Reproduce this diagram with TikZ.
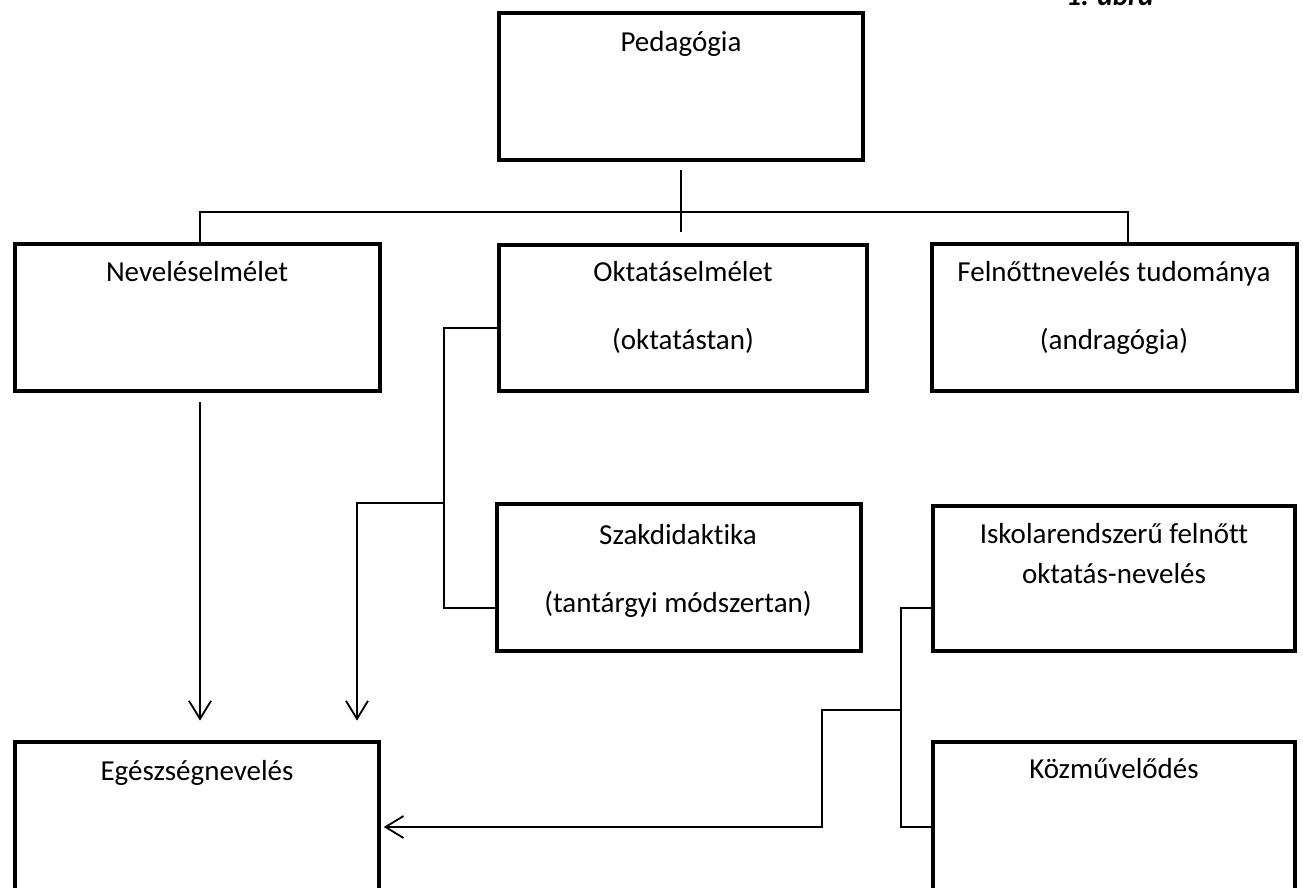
\documentclass[tikz,border=0pt]{standalone}
\usepackage{fontspec}
\setmainfont{Carlito}[Ligatures=NoCommon]
\usetikzlibrary{fit,arrows.meta}
\tikzset{
  bx/.style={draw=black, line width=2.4pt, inner sep=0pt},
  con/.style={draw=black, line width=0.9pt},
  arr/.style={con, -{Straight Barb[length=9pt,width=11pt,line width=0.9pt]}},
  lbl/.style={anchor=base, inner sep=0pt, font=\fontsize{14.5pt}{16pt}\selectfont}
}
\begin{document}
\begin{tikzpicture}[x=0.5pt,y=-0.5pt]
\fill[white] (0,0) rectangle (1303,888);
\useasboundingbox (0,0) rectangle (1303,888);
% boxes
\node[bx, fit={(499,13) (863,160)}] (ped) {};
\node[bx, fit={(15,244) (380,391)}] (nev) {};
\node[bx, fit={(499,245) (867,391)}] (okt) {};
\node[bx, fit={(932,244) (1297,391)}] (fel) {};
\node[bx, fit={(497,504) (861,651)}] (szak) {};
\node[bx, fit={(933,506) (1295,651)}] (isk) {};
\node[bx, fit={(15,742) (379,893)}] (ege) {};
\node[bx, fit={(933,742) (1295,893)}] (koz) {};
% labels
\node[lbl, font=\fontsize{14.5pt}{16pt}\selectfont\bfseries\itshape] (abra) at (1110,6) {1. ábra};
\node[lbl] (tped) at (681,52) {Pedagógia};
\node[lbl] (tnev) at (197,282) {Neveléselmélet};
\node[lbl] (tokt1) at (683,282) {Oktatáselmélet};
\node[lbl] (tokt2) at (683,350) {(oktatástan)};
\node[lbl] (tfel1) at (1114,282) {Felnőttnevelés tudománya};
\node[lbl] (tfel2) at (1114,350) {(andragógia)};
\node[lbl] (tszak1) at (678,544) {Szakdidaktika};
\node[lbl] (tszak2) at (678,612) {(tantárgyi módszertan)};
\node[lbl] (tisk1) at (1114,543) {Iskolarendszerű felnőtt};
\node[lbl] (tisk2) at (1114,583) {oktatás-nevelés};
\node[lbl] (tkoz) at (1114,778) {Közművelődés};
\node[lbl] (tege) at (197,780) {Egészségnevelés};
% coordinates
\coordinate (busL) at (200,212);
\coordinate (busR) at (1128,212);
\coordinate (oj1) at (444,328);
\coordinate (oj2) at (444,608);
\coordinate (ob) at (444,503);
\coordinate (ob2) at (357,503);
\coordinate (rj1) at (901,608);
\coordinate (rj2) at (901,827);
\coordinate (rb) at (901,710);
\coordinate (rb2) at (822,710);
\coordinate (rb3) at (822,827);
% connectors
\draw[con, shorten <=4pt, shorten >=5.5pt] (ped.south) -- (ped.south |- okt.north);
\draw[con] (busL |- nev.north) -- (busL) -- (busR) -- (busR |- fel.north);
\draw[con] (okt.west |- oj1) -- (oj1) -- (oj2) -- (szak.west |- oj2);
\draw[arr, shorten >=9.5pt] (ob) -- (ob2) -- (ob2 |- ege.north);
\draw[arr, shorten <=4.5pt, shorten >=9.5pt] (busL |- nev.south) -- (busL |- ege.north);
\draw[con] (isk.west |- rj1) -- (rj1) -- (rj2) -- (koz.west |- rj2);
\draw[arr, shorten >=1.2pt] (rb) -- (rb2) -- (rb3) -- (ege.east |- rb3);
\end{tikzpicture}
\end{document}
